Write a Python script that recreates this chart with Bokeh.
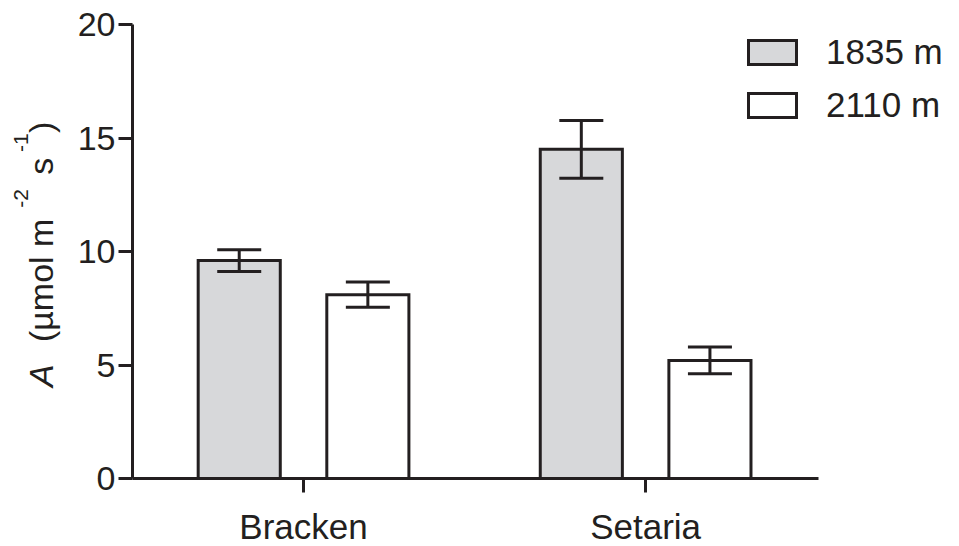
from math import pi
from bokeh.plotting import figure
from bokeh.layouts import row
from bokeh.models import (ColumnDataSource, Whisker, TeeHead, Legend, LegendItem,
                          FixedTicker, Range1d)
from bokeh.transform import dodge
from bokeh.core.properties import value
from bokeh.embed import file_html
from bokeh.resources import INLINE

# ---- data ----
species = ["Bracken", "Setaria"]
series = ["1835 m", "2110 m"]
a_1835 = [9.6, 14.5]
a_2110 = [8.1, 5.2]
se_1835 = [0.48, 1.27]
se_2110 = [0.56, 0.59]
y_ticks = [0, 5, 10, 15, 20]

INK = "#231f20"
GREY = "#d7d8da"
FONT = "Liberation Sans"

xpos = list(range(len(species)))
src = ColumnDataSource(dict(
    x=xpos,
    a1=a_1835, a2=a_2110,
    lo1=[v - e for v, e in zip(a_1835, se_1835)],
    hi1=[v + e for v, e in zip(a_1835, se_1835)],
    lo2=[v - e for v, e in zip(a_2110, se_2110)],
    hi2=[v + e for v, e in zip(a_2110, se_2110)],
))

SW = 70          # width of the strip holding the rotated y title
TOP, FH = 24, 454

p = figure(frame_width=821, frame_height=FH, output_backend="svg", toolbar_location=None,
           x_range=Range1d(-0.5, 1.9), y_range=Range1d(0, 20),
           min_border_left=132 - SW, min_border_right=0,
           min_border_top=TOP, min_border_bottom=60)
p.outline_line_color = None
p.grid.visible = False
p.background_fill_color = None
p.border_fill_color = "white"

OFF = 0.188
W = 0.24
r1 = p.vbar(x=dodge("x", -OFF), top="a1", width=W, bottom=0,
            source=src, fill_color=GREY, line_color=INK, line_width=3, line_join="miter")
r2 = p.vbar(x=dodge("x", OFF), top="a2", width=W, bottom=0,
            source=src, fill_color="white", line_color=INK, line_width=3, line_join="miter")

for off, lo, hi in [(-OFF, "lo1", "hi1"), (OFF, "lo2", "hi2")]:
    w = Whisker(source=src, base=dodge("x", off), lower=lo, upper=hi,
                dimension="height", line_color=INK, line_width=3, level="overlay",
                upper_head=TeeHead(size=44, line_width=3, line_color=INK),
                lower_head=TeeHead(size=44, line_width=3, line_color=INK))
    p.add_layout(w)

# axes
for ax in (p.xaxis[0], p.yaxis[0]):
    ax.axis_line_width = 3
    ax.axis_line_color = INK
    ax.major_tick_line_width = 3
    ax.major_tick_line_color = INK
    ax.major_tick_in = 0
    ax.major_tick_out = 14
    ax.minor_tick_line_color = None
    ax.major_label_text_font = FONT
    ax.major_label_text_color = INK

p.yaxis.major_label_text_font_size = "34px"
p.xaxis.major_label_text_font_size = "35px"
p.yaxis.ticker = FixedTicker(ticks=y_ticks)
p.yaxis.major_label_standoff = 3
p.xaxis.ticker = FixedTicker(ticks=xpos)
overrides = {}
for i, s in zip(xpos, species):
    overrides[i] = s
    overrides[str(i)] = s
p.xaxis.major_label_overrides = overrides
p.xaxis.bounds = (-0.5, 1.505)
p.xaxis.major_label_standoff = 14

legend = Legend(items=[LegendItem(label=series[0], renderers=[r1]),
                       LegendItem(label=series[1], renderers=[r2])],
                location=(610, 353), orientation="vertical",
                glyph_width=60, glyph_height=30, label_height=30,
                spacing=13, label_standoff=24, padding=0, margin=0,
                border_line_color=None, background_fill_alpha=0,
                label_text_font=FONT, label_text_font_size="35px",
                label_text_color=INK)
p.add_layout(legend, "center")

# ---- rotated y-axis title strip (its frame lines up with the main frame) ----
H = 546
t = figure(width=SW, height=H, output_backend="svg", toolbar_location=None,
           x_range=Range1d(0, SW), y_range=Range1d(H - (TOP + FH), H - TOP),
           min_border_left=0, min_border_right=0, min_border_top=TOP,
           min_border_bottom=H - TOP - FH)
t.axis.visible = False
t.grid.visible = False
t.outline_line_color = None
t.background_fill_color = None
t.border_fill_color = "white"

pieces = ["A", "(µmol m", "-2", "s", "-1", ")"]
piece_x = [40.5, 40.5, 20.5, 40.5, 20.5, 40.5]   # centre line of each piece (page px)
piece_y = [388, 343, 208, 175, 152, 133]         # start of each piece (page px)
piece_size = ["34px", "34px", "21px", "34px", "21px", "34px"]
piece_style = ["italic", "normal", "normal", "normal", "normal", "normal"]
tsrc = ColumnDataSource(dict(x=piece_x, y=[H - v for v in piece_y], text=pieces,
                             size=piece_size, style=piece_style))
t.text(x="x", y="y", text="text", source=tsrc, angle=pi / 2,
       text_align="left", text_baseline="middle",
       text_font=value(FONT), text_font_size="size", text_font_style="style",
       text_color=INK)

layout = row(t, p)
open("out.html", "w").write(file_html(layout, INLINE))
